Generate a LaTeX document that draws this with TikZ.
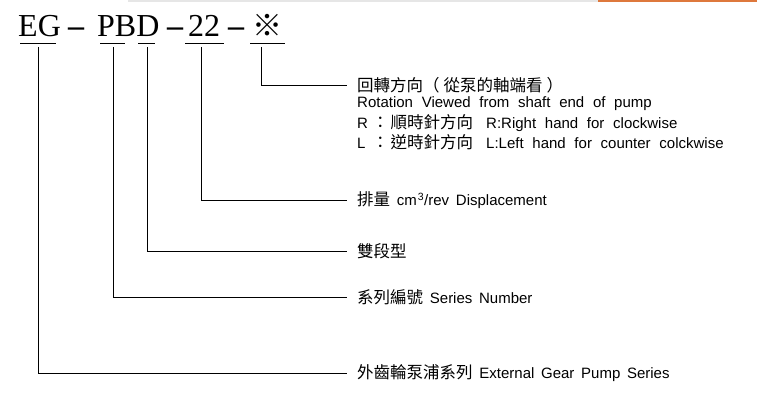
\documentclass[tikz,border=0pt]{standalone}
\usepackage{fontspec}
\setmainfont{Liberation Serif}
\newfontfamily\labelfont{Liberation Sans}
\newfontfamily\cjk{Noto Sans CJK TC}
\newcommand{\zh}[1]{{\fontsize{16.5}{16.5}\cjk #1}}
\newcommand{\descfont}{\fontsize{15}{15}\labelfont\setlength{\spaceskip}{6.7pt plus 1pt minus 1pt}}
\newcommand{\widedescfont}{\fontsize{15}{15}\labelfont\setlength{\spaceskip}{8.7pt plus 1pt minus 1pt}}
\definecolor{topgray}{RGB}{230,230,230}
\definecolor{toporange}{RGB}{222,120,60}

\begin{document}
\begin{tikzpicture}[x=1pt,y=-1pt,
  code/.style={anchor=base west,inner sep=0pt,font=\fontsize{32}{32}\selectfont},
  desc/.style={anchor=west,inner xsep=10pt,inner ysep=0pt,font=\descfont},
  wide/.style={font=\widedescfont},
  lead/.style={line width=0.8pt,black}]
\useasboundingbox (0,0) rectangle (759,411);
\fill[topgray] (128,0) rectangle (598,2);
\fill[toporange] (598,0) rectangle (757,2);

% model code
\node[code] (eg) at (18,37) {EG};
\node[code] (dashA) at (68,37) {\textbf{--}};
\node[code] (pbd) at (97,37) {PBD};
\node[code] (dashB) at (167,37) {\textbf{--}};
\node[code] (disp) at (188,37) {22};
\node[code] (dashC) at (228,37) {\textbf{--}};
\node[code] (rot) at (252,37) {\fontsize{30}{30}\cjk ※};

% underlines
\draw[lead] (20,43) -- (56,43);
\draw[lead] (100,43) -- (125,43);
\draw[lead] (138,43) -- (155,43);
\draw[lead] (185,43) -- (224,43);
\draw[lead] (250,43) -- (285,43);

\coordinate (tickEG) at (38,47);
\coordinate (tickP) at (113,47);
\coordinate (tickD) at (147,47);
\coordinate (tickNum) at (201,47);
\coordinate (tickRot) at (261,47);

% descriptions
\node[desc] (rotA) at (347,85) {\zh{回轉方向（\hspace{4pt}從泵的軸端看\hspace{4pt}）}};
\node[desc,wide] (rotB) at (347,104) {Rotation Viewed from shaft end of pump};
\node[desc,wide] (rotC) at (347,123) {\makebox[15pt][l]{R}\zh{：}\hspace{2pt}\zh{順時針方向}\hspace{13pt}R:Right hand for clockwise};
\node[desc,wide] (rotD) at (347,142) {\makebox[15pt][l]{L}\zh{：}\hspace{2pt}\zh{逆時針方向}\hspace{13pt}L:Left hand for counter colckwise};
\node[desc] (dispText) at (347,200) {\zh{排量} cm\hspace{1pt}\textsuperscript{3}/rev Displacement};
\node[desc] (dblText) at (347,251) {\zh{雙段型}};
\node[desc] (seriesText) at (347,297) {\zh{系列編號} Series Number};
\node[desc] (extText) at (347,373) {\zh{外齒輪泵浦系列} External Gear Pump Series};

% leaders
\draw[lead] (tickRot) |- (rotA.west);
\draw[lead] (tickNum) |- (dispText.west);
\draw[lead] (tickD) |- (dblText.west);
\draw[lead] (tickP) |- (seriesText.west);
\draw[lead] (tickEG) |- (extText.west);
\end{tikzpicture}
\end{document}
